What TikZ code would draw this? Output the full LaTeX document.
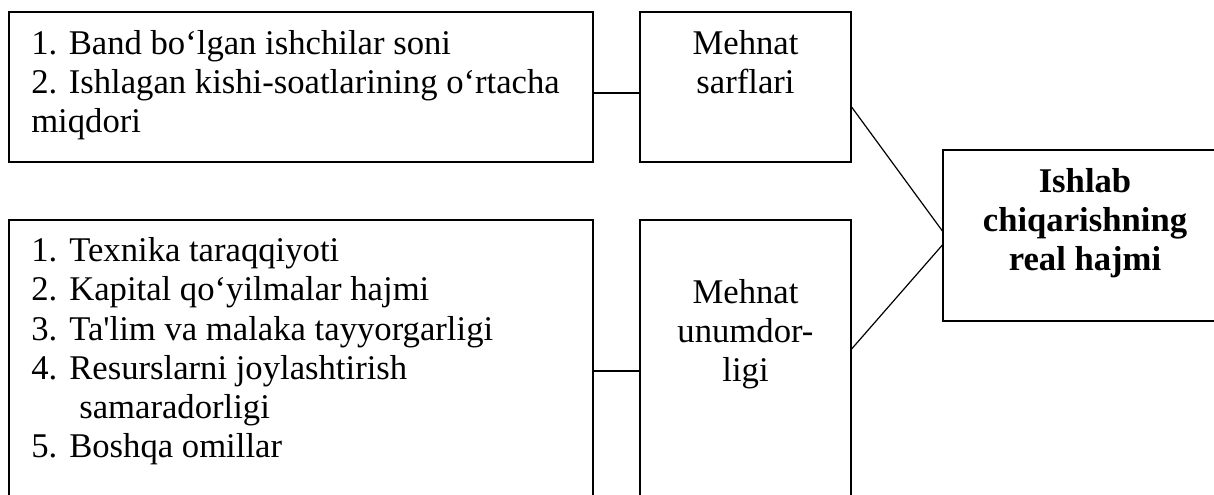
\documentclass[tikz,border=0pt]{standalone}
\usepackage{fontspec}
\setmainfont{Liberation Serif}[Ligatures=TeXOff]
\usetikzlibrary{fit}
\begin{document}
\begin{tikzpicture}[x=0.75pt,y=-0.75pt,
  box/.style={draw,line width=0.9pt,rectangle,inner sep=0pt},
  link/.style={line width=0.9pt},
  txt/.style={inner sep=0pt,anchor=base west,font=\fontsize{26}{29}\selectfont},
  ctxt/.style={inner sep=0pt,anchor=base,font=\fontsize{26}{29}\selectfont},
  btxt/.style={inner sep=0pt,anchor=base,font=\fontsize{26}{29}\selectfont\bfseries}]
\useasboundingbox (0,0) rectangle (1214,495);
\clip (0,0) rectangle (1214,495);
% boxes
\node[box,fit={(9,12) (593,162)}] (tl) {};
\node[box,fit={(640,12) (851,162)}] (ms) {};
\node[box,fit={(9,220) (593,530)}] (bl) {};
\node[box,fit={(640,220) (851,530)}] (mu) {};
\node[box,fit={(943,150) (1227,321)}] (ih) {};
% connectors
\coordinate (c1) at (0,93);
\coordinate (c2) at (0,371);
\coordinate (d1) at (0,107);
\coordinate (d2) at (0,231);
\coordinate (d3) at (0,245);
\coordinate (d4) at (0,349);
\draw[link] (tl.east |- c1) -- (ms.west |- c1);
\draw[link] (bl.east |- c2) -- (mu.west |- c2);
\draw[link] (ms.east |- d1) -- (ih.west |- d2);
\draw[link] (mu.east |- d4) -- (ih.west |- d3);
% top-left text
\node[txt] (t1) at (31,55) {1. Band bo‘lgan ishchilar soni};
\node[txt] (t2) at (31,94) {2. Ishlagan kishi-soatlarining o‘rtacha};
\node[txt] (t3) at (31,133) {miqdori};
% bottom-left text
\node[txt] (n1) at (31,262) {1.};
\node[txt] (b1) at (69,262) {Texnika taraqqiyoti};
\node[txt] (n2) at (31,301) {2.};
\node[txt] (b2) at (69,301) {Kapital qo‘yilmalar hajmi};
\node[txt] (n3) at (31,340) {3.};
\node[txt] (b3) at (69,340) {Ta'lim va malaka tayyorgarligi};
\node[txt] (n4) at (31,379) {4.};
\node[txt] (b4) at (69,379) {Resurslarni joylashtirish};
\node[txt] (b4b) at (79,418) {samaradorligi};
\node[txt] (n5) at (31,457) {5.};
\node[txt] (b5) at (69,457) {Boshqa omillar};
% middle texts
\node[ctxt] (m1) at (745.5,55) {Mehnat};
\node[ctxt] (m2) at (745.5,94) {sarflari};
\node[ctxt] (u1) at (745.5,304) {Mehnat};
\node[ctxt] (u2) at (745.5,343) {unumdor-};
\node[ctxt] (u3) at (745.5,382) {ligi};
% result text
\node[btxt] (r1) at (1085,193) {Ishlab};
\node[btxt] (r2) at (1085,232) {chiqarishning};
\node[btxt] (r3) at (1085,271) {real hajmi};
\end{tikzpicture}
\end{document}
